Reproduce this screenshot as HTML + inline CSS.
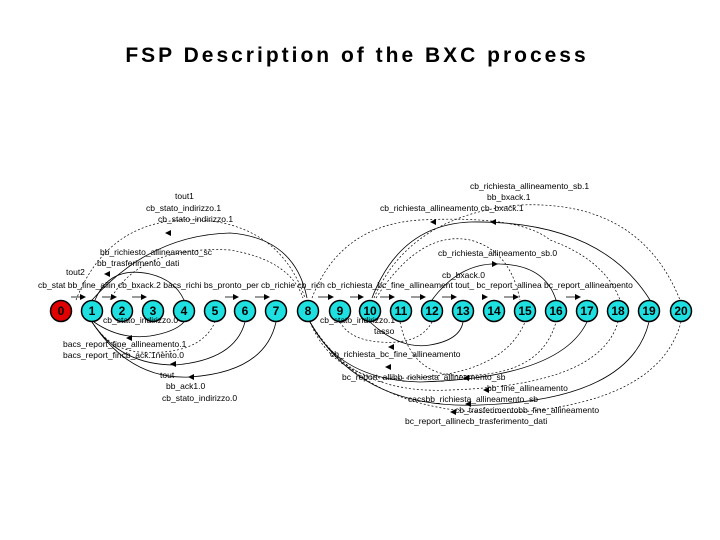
<!DOCTYPE html>
<html><head><meta charset="utf-8"><style>
html,body{margin:0;padding:0;background:#fff;}
svg{display:block;}
.t{font-family:"Liberation Sans",sans-serif;font-size:8.5px;fill:#000;}
.n{font-family:"Liberation Sans",sans-serif;font-size:12px;font-weight:bold;fill:#000;text-anchor:middle;}
.c{fill:none;stroke:#000;stroke-width:0.8;}
.d{fill:none;stroke:#000;stroke-width:0.7;stroke-dasharray:2,2;}
</style></head><body>
<svg width="720" height="540" viewBox="0 0 720 540">
<text x="357" y="62" text-anchor="middle" font-family="Liberation Sans, sans-serif" font-size="21" font-weight="bold" letter-spacing="3">FSP Description of the BXC process</text>

<!-- straight connectors -->
<g class="c">
<line x1="71" y1="297" x2="82" y2="297"/>
<line x1="102" y1="297" x2="113" y2="297"/>
<line x1="132" y1="297" x2="143" y2="297"/>
<line x1="225" y1="297" x2="235" y2="297"/>
<line x1="255" y1="297" x2="266" y2="297"/>
<line x1="318" y1="297" x2="330" y2="297"/>
<line x1="350" y1="297" x2="360" y2="297"/>
<line x1="380" y1="297" x2="391" y2="297"/>
<line x1="411" y1="297" x2="422" y2="297"/>
<line x1="442" y1="297" x2="453" y2="297"/>
<line x1="504" y1="297" x2="515" y2="297"/>
<line x1="566" y1="297" x2="577" y2="297"/>
</g>
<g fill="#000">
<polygon points="80,294 86,297 80,300"/><polygon points="111,294 117,297 111,300"/>
<polygon points="141,294 147,297 141,300"/><polygon points="233,294 239,297 233,300"/>
<polygon points="264,294 270,297 264,300"/><polygon points="328,294 334,297 328,300"/>
<polygon points="358,294 364,297 358,300"/><polygon points="389,294 395,297 389,300"/>
<polygon points="420,294 426,297 420,300"/><polygon points="451,294 457,297 451,300"/>
<polygon points="513,294 519,297 513,300"/><polygon points="575,294 581,297 575,300"/>
<polygon points="482,294 488,297 482,300"/>
</g>

<!-- top arcs -->
<path class="d" d="M76,300 Q110,215 200,220 Q280,225 305,298"/>
<path class="c" d="M92,300 Q150,235 230,233 Q295,238 307,298"/>
<polygon points="165,233 171,230 171,236"/>
<path class="d" d="M110,300 Q140,245 230,250 Q290,260 303,298"/>
<path class="c" d="M95,300 Q110,265 150,274 Q175,280 184,300"/>
<polygon points="104,274 110,271 110,277"/>
<path class="d" d="M312,298 Q340,225 420,220 Q520,215 550,240 Q605,260 620,300"/>
<path class="c" d="M372,298 Q400,225 470,222 Q600,220 650,300"/>
<polygon points="430,222 436,219 436,225"/>
<polygon points="490,222 496,219 496,225"/>
<path class="d" d="M374,298 Q410,215 520,205 Q640,200 680,300"/>
<path class="d" d="M376,298 Q420,230 470,240 Q510,250 520,300"/>
<path class="c" d="M432,300 Q460,262 500,264 Q545,265 556,300"/>
<polygon points="498,264 492,261 492,267"/>

<!-- bottom arcs -->
<path class="c" d="M94,322 Q120,340 150,336 Q175,332 184,322"/>
<polygon points="126,338 132,335 132,341"/>
<path class="d" d="M92,322 Q110,350 140,352 Q200,356 215,322"/>
<path class="c" d="M92,322 Q120,365 175,365 Q235,360 245,322"/>
<polygon points="170,364 176,361 176,367"/>
<path class="c" d="M92,322 Q130,380 190,377 Q265,372 276,322"/>
<polygon points="188,377 194,374 194,380"/>
<path class="d" d="M340,322 Q350,340 380,342 Q420,345 432,322"/>
<path class="c" d="M370,322 Q400,350 430,345 Q460,340 463,322"/>
<polygon points="388,347 394,344 394,350"/>
<path class="d" d="M310,322 Q330,370 380,378 Q500,382 525,322"/>
<path class="c" d="M310,322 Q340,380 420,382 Q560,378 587,322"/>
<polygon points="385,367 391,364 391,370"/>
<polygon points="463,378 469,375 469,381"/>
<path class="d" d="M310,322 Q350,395 450,390 Q600,385 618,322"/>
<polygon points="483,390 489,387 489,393"/>
<path class="c" d="M310,322 Q360,410 480,405 Q630,400 649,322"/>
<polygon points="465,404 471,401 471,407"/>
<path class="d" d="M310,322 Q370,420 520,412 Q660,400 681,322"/>
<polygon points="450,412 456,409 456,415"/>
<path class="d" d="M400,322 Q410,370 450,375 Q540,380 556,322"/>

<!-- nodes -->
<g stroke="#000" stroke-width="1.5">
<circle cx="61" cy="311" r="10.5" fill="#e00000"/>
<g fill="#1fe0e0">
<circle cx="92" cy="311" r="10.5"/><circle cx="122" cy="311" r="10.5"/><circle cx="153" cy="311" r="10.5"/>
<circle cx="184" cy="311" r="10.5"/><circle cx="215" cy="311" r="10.5"/><circle cx="245" cy="311" r="10.5"/>
<circle cx="276" cy="311" r="10.5"/><circle cx="308" cy="311" r="10.5"/><circle cx="340" cy="311" r="10.5"/>
<circle cx="370" cy="311" r="10.5"/><circle cx="401" cy="311" r="10.5"/><circle cx="432" cy="311" r="10.5"/>
<circle cx="463" cy="311" r="10.5"/><circle cx="494" cy="311" r="10.5"/><circle cx="525" cy="311" r="10.5"/>
<circle cx="556" cy="311" r="10.5"/><circle cx="587" cy="311" r="10.5"/><circle cx="618" cy="311" r="10.5"/>
<circle cx="649" cy="311" r="10.5"/><circle cx="681" cy="311" r="10.5"/>
</g></g>
<g class="n">
<text x="61" y="315">0</text><text x="92" y="315">1</text><text x="122" y="315">2</text><text x="153" y="315">3</text>
<text x="184" y="315">4</text><text x="215" y="315">5</text><text x="245" y="315">6</text><text x="276" y="315">7</text>
<text x="308" y="315">8</text><text x="340" y="315">9</text><text x="370" y="315">10</text><text x="401" y="315">11</text>
<text x="432" y="315">12</text><text x="463" y="315">13</text><text x="494" y="315">14</text><text x="525" y="315">15</text>
<text x="556" y="315">16</text><text x="587" y="315">17</text><text x="618" y="315">18</text><text x="649" y="315">19</text>
<text x="681" y="315">20</text>
</g>

<!-- labels -->
<g class="t">
<text x="175" y="199">tout1</text>
<text x="146" y="211">cb_stato_indirizzo.1</text>
<text x="158" y="222">cb_stato_indirizzo.1</text>
<text x="100" y="255">bb_richiesto_allineamento_sc</text>
<text x="97" y="266">bb_trasferimento_dati</text>
<text x="66" y="275">tout2</text>
<text x="38" y="288">cb_stat bb_fine_allin cb_bxack.2   bacs_richi bs_pronto_per cb_richie cb_rich cb_richiesta_bc_fine_allineament tout_ bc_report_allinea bc_report_allineamento</text>
<text x="103" y="323">cb_stato_indirizzo.0</text>
<text x="63" y="347">bacs_report_fine_allineamento.1</text>
<text x="63" y="358">bacs_report_fincb_ack.1nento.0</text>
<text x="160" y="378">tout</text>
<text x="166" y="389">bb_ack1.0</text>
<text x="162" y="401">cb_stato_indirizzo.0</text>
<text x="470" y="189">cb_richiesta_allineamento_sb.1</text>
<text x="487" y="200">bb_bxack.1</text>
<text x="380" y="211">cb_richiesta_allineamento cb_bxack.1</text>
<text x="438" y="256">cb_richiesta_allineamento_sb.0</text>
<text x="442" y="278">cb_bxack.0</text>
<text x="320" y="323">cb_stato_indirizzo.1</text>
<text x="374" y="334">tasso</text>
<text x="330" y="357">cb_richiesta_bc_fine_allineamento</text>
<text x="342" y="380">bc_report_allibb_richiesta_allineamento_sb</text>
<text x="487" y="391">bb_fine_allineamento</text>
<text x="408" y="402">cacsbb_richiesta_allineamento_sb</text>
<text x="455" y="413">cb_trasferimentobb_fine_allineamento</text>
<text x="405" y="424">bc_report_allinecb_trasferimento_dati</text>
</g>
</svg>
</body></html>
